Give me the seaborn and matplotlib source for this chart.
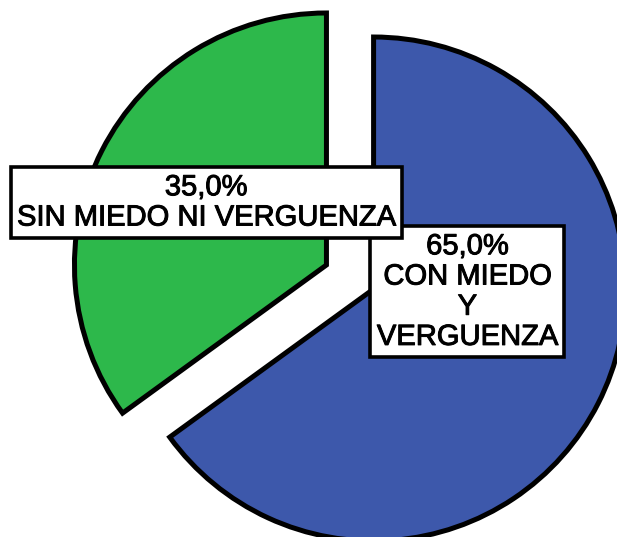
import matplotlib
matplotlib.use("Agg")
import matplotlib.pyplot as plt
import matplotlib.patheffects as pe
import seaborn as sns

# Data
categories = ["CON MIEDO\nY\nVERGUENZA", "SIN MIEDO NI VERGUENZA"]
percentages = [65.0, 35.0]

# Styles / layout (not data)
colors = ["#3D58AB", "#2DB84B"]
explode = [0.105, 0.105]
label_pos = [(0.466, -0.058), (-0.571, 0.296)]

sns.set_theme(style="white")
plt.rcParams["font.family"] = ["Liberation Sans", "DejaVu Sans"]

fig = plt.figure(figsize=(6.17, 5.37), dpi=100)
ax = fig.add_axes([0, 0, 1, 1])

wedges, _ = ax.pie(
    percentages,
    colors=colors,
    explode=explode,
    startangle=90,
    counterclock=False,
    radius=1.0,
    wedgeprops=dict(edgecolor="black", linewidth=3.6, joinstyle="miter"),
)
ax.set_aspect("auto")
ax.set_xlim(-1.389, 1.0595)
ax.set_ylim(-1.0317, 1.0992)
ax.axis("off")

for cat, pct, (x, y) in zip(categories, percentages, label_pos):
    txt = f"{pct:.1f}".replace(".", ",") + "%\n" + cat
    ax.text(
        x, y, txt, ha="center", va="center", fontsize=21, linespacing=1.1,
        color="black", zorder=5,
        path_effects=[pe.withStroke(linewidth=0.7, foreground="black")],
        bbox=dict(boxstyle="square,pad=0.22", facecolor="white",
                  edgecolor="black", linewidth=2.6),
    )

fig.savefig("out.png", dpi=100)
